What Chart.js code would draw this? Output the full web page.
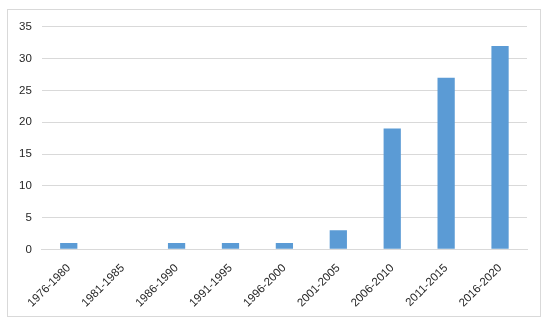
<!DOCTYPE html>
<html>
<head>
<meta charset="utf-8">
<script src="https://cdn.jsdelivr.net/npm/chart.js@4"></script>
<style>
  body { margin: 0; background: #fff; }
  #frame {
    position: absolute; left: 7px; top: 9px;
    width: 534px; height: 308px;
    border: 1px solid #d9d9d9; box-sizing: border-box;
  }
</style>
</head>
<body>
<div id="frame"><canvas id="chart"></canvas></div>
<script>
// Periods and counts
const periods = ['1976-1980', '1981-1985', '1986-1990', '1991-1995', '1996-2000',
                 '2001-2005', '2006-2010', '2011-2015', '2016-2020'];
const counts = [1, 0, 1, 1, 1, 3, 19, 27, 32];
const yTicks = [0, 5, 10, 15, 20, 25, 30, 35];

const tickFont = { family: '"Liberation Sans", Arial, sans-serif', size: 11.5 };

const chart = new Chart(document.getElementById('chart'), {
  type: 'bar',
  data: {
    labels: periods,
    datasets: [{
      data: counts,
      backgroundColor: '#5b9bd5',
      borderWidth: 0,
      categoryPercentage: 1,
      barPercentage: 0.32
    }]
  },
  options: {
    responsive: true,
    maintainAspectRatio: false,
    animation: false,
    layout: { padding: { left: 1, right: 13, top: 6, bottom: 2 } },
    plugins: { legend: { display: false }, tooltip: { enabled: false } },
    scales: {
      x: {
        grid: { display: false },
        border: { color: '#d9d9d9' },
        ticks: {
          color: '#262626',
          font: tickFont,
          minRotation: 45, maxRotation: 45, padding: 4
        }
      },
      y: {
        min: 0, max: 35,
        afterBuildTicks: axis => { axis.ticks = yTicks.map(v => ({ value: v })); },
        grid: { color: '#d9d9d9', drawTicks: false },
        border: { display: false },
        ticks: {
          color: '#262626',
          font: tickFont,
          padding: 10
        }
      }
    }
  }
});
</script>
</body>
</html>
